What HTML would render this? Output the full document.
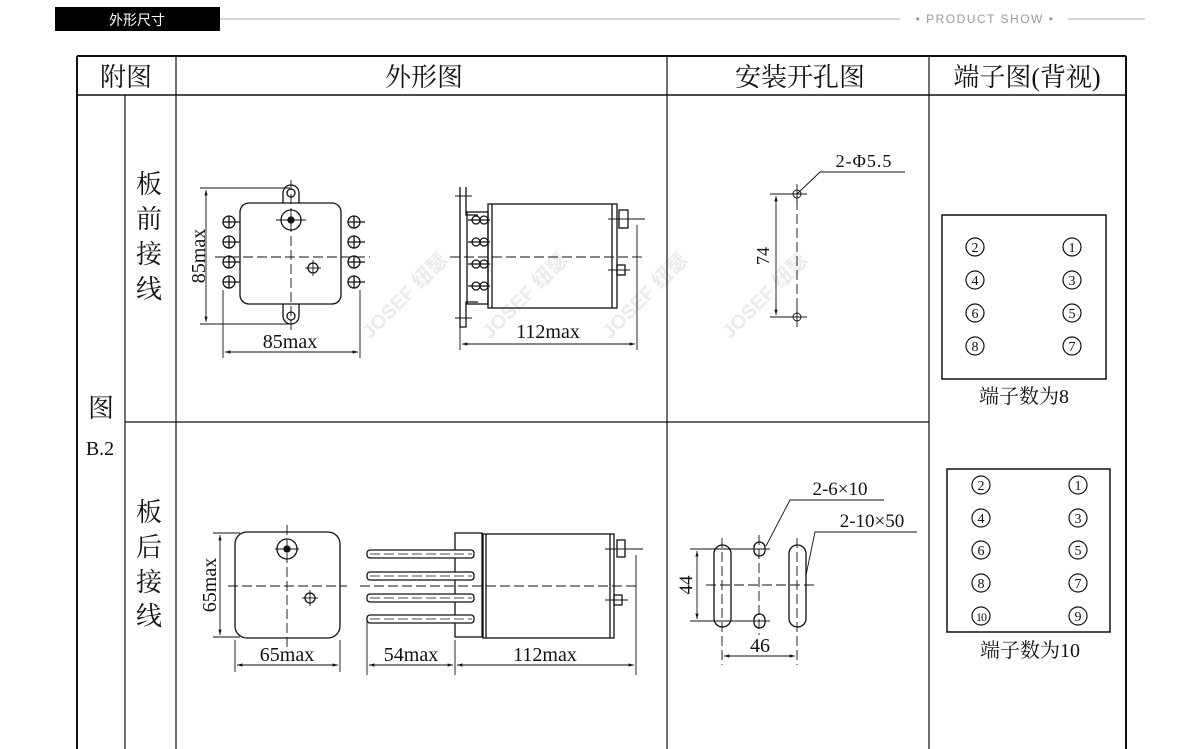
<!DOCTYPE html>
<html><head><meta charset="utf-8"><style>
html,body{margin:0;padding:0;background:#fff;width:1200px;height:749px;overflow:hidden}
svg{display:block}
text{font-family:"Liberation Serif","Noto Serif CJK SC",serif;fill:#111}
.c{font-family:"Liberation Sans","Noto Sans CJK SC",sans-serif}
text.wm{fill:#ebebeb;font-family:"Liberation Sans","Noto Sans CJK SC",sans-serif;font-weight:bold;font-size:20px}
</style></head><body>
<svg width="1200" height="749" viewBox="0 0 1200 749" xmlns="http://www.w3.org/2000/svg">
<defs>
<marker id="a" viewBox="0 0 10 10" refX="10" refY="5" markerWidth="8" markerHeight="6" orient="auto-start-reverse"><path d="M0,2 L10,5 L0,8z" fill="#111"/></marker>
</defs>
<!-- header -->
<rect x="55" y="7" width="165" height="24" fill="#000"/>
<text x="137" y="25" class="c" font-size="14" style="fill:#fff" text-anchor="middle">外形尺寸</text>
<line x1="220" y1="19" x2="900" y2="19" stroke="#aaa" stroke-width="1"/>
<text x="985" y="23" class="c" font-size="12" letter-spacing="1.5" style="fill:#999" text-anchor="middle">• PRODUCT SHOW •</text>
<line x1="1068" y1="19" x2="1145" y2="19" stroke="#aaa"/>
<!-- watermarks -->
<text class="wm" transform="translate(370,340) rotate(-45)">JOSEF 纽瑟</text>
<text class="wm" transform="translate(490,340) rotate(-45)">JOSEF 纽瑟</text>
<text class="wm" transform="translate(610,340) rotate(-45)">JOSEF 纽瑟</text>
<text class="wm" transform="translate(730,340) rotate(-45)">JOSEF 纽瑟</text>
<!-- table -->
<g stroke="#111" fill="none">
<line x1="77" y1="56" x2="1126" y2="56" stroke-width="2"/>
<line x1="77" y1="95" x2="1126" y2="95" stroke-width="1.5"/>
<line x1="77" y1="56" x2="77" y2="749" stroke-width="2"/>
<line x1="1126" y1="56" x2="1126" y2="749" stroke-width="2"/>
<line x1="125" y1="95" x2="125" y2="749" stroke-width="1.2"/>
<line x1="176" y1="56" x2="176" y2="749" stroke-width="1.2"/>
<line x1="667" y1="56" x2="667" y2="749" stroke-width="1.2"/>
<line x1="929" y1="56" x2="929" y2="749" stroke-width="1.2"/>
<line x1="125" y1="422" x2="929" y2="422" stroke-width="1.2"/>
</g>
<g font-size="26" text-anchor="middle">
<text x="126" y="86">附图</text>
<text x="424" y="86">外形图</text>
<text x="800" y="86">安装开孔图</text>
<text x="1027" y="86">端子图(背视)</text>
<text x="149" y="193">板</text><text x="149" y="228">前</text><text x="149" y="263">接</text><text x="149" y="298">线</text>
<text x="149" y="521">板</text><text x="149" y="556">后</text><text x="149" y="591">接</text><text x="149" y="625">线</text>
<text x="101" y="417">图</text>
</g>
<text x="100" y="455" font-size="20" text-anchor="middle">B.2</text>

<!-- top front view -->
<g stroke="#111" fill="none" stroke-width="1.3">
<path d="M283,203 v-10 a8,8 0 0 1 16,0 v10"/><circle cx="291" cy="193" r="4"/>
<path d="M283,304 v12 a8,8 0 0 0 16,0 v-12"/><circle cx="291" cy="316" r="4"/>
<rect x="240" y="203" width="101" height="101" rx="9" fill="#fff"/>
<circle cx="291" cy="220" r="10"/><circle cx="291" cy="220" r="3" fill="#111"/>
<circle cx="313" cy="268" r="5"/>
<g id="tl"><circle cx="229" cy="222" r="6"/><line x1="223" y1="222" x2="240" y2="222"/><line x1="229" y1="216" x2="229" y2="228"/></g>
<use href="#tl" y="20"/><use href="#tl" y="40"/><use href="#tl" y="60"/>
<use href="#tl" x="125"/><use href="#tl" x="125" y="20"/><use href="#tl" x="125" y="40"/><use href="#tl" x="125" y="60"/>
</g>
<g stroke="#111" stroke-width="0.9" fill="none">
<line x1="215" y1="257" x2="370" y2="257" stroke-dasharray="10,4"/>
<line x1="291" y1="180" x2="291" y2="330" stroke-dasharray="10,4"/>
<line x1="305" y1="268" x2="321" y2="268"/><line x1="313" y1="260" x2="313" y2="276"/>
<line x1="276" y1="220" x2="306" y2="220"/>
<line x1="200" y1="188" x2="290" y2="188"/><line x1="200" y1="324" x2="290" y2="324"/>
<line x1="206" y1="190" x2="206" y2="322" marker-start="url(#a)" marker-end="url(#a)"/>
<line x1="223" y1="290" x2="223" y2="358"/><line x1="360" y1="290" x2="360" y2="358"/>
<line x1="225" y1="352" x2="358" y2="352" marker-start="url(#a)" marker-end="url(#a)"/>
</g>
<text x="290" y="348" font-size="20" text-anchor="middle">85max</text>
<text transform="translate(205,256) rotate(-90)" font-size="20" text-anchor="middle">85max</text>

<!-- top side view -->
<g stroke="#111" fill="none" stroke-width="1.3">
<path d="M460,187 v140 h6 v-25 h12 M466,187 v28 h12"/>
<rect x="467" y="212" width="21" height="92"/>
<rect x="488" y="204" width="129" height="104"/>
<line x1="492" y1="204" x2="492" y2="308"/>
<line x1="612" y1="204" x2="612" y2="308"/>
<rect x="619" y="210" width="9" height="18"/>
<rect x="617" y="265" width="8" height="10"/>
<g id="st"><circle cx="476" cy="220" r="4"/><circle cx="484" cy="220" r="4"/><line x1="468" y1="220" x2="490" y2="220"/></g>
<use href="#st" y="22"/><use href="#st" y="44"/><use href="#st" y="66"/>
</g>
<g stroke="#111" stroke-width="0.9" fill="none">
<line x1="450" y1="257" x2="645" y2="257" stroke-dasharray="10,4"/>
<line x1="455" y1="196" x2="472" y2="196"/><line x1="455" y1="318" x2="472" y2="318"/>
<line x1="608" y1="219" x2="645" y2="219"/><line x1="608" y1="270" x2="630" y2="270"/>
<line x1="460" y1="327" x2="460" y2="350"/><line x1="637" y1="225" x2="637" y2="350"/>
<line x1="462" y1="344" x2="635" y2="344" marker-start="url(#a)" marker-end="url(#a)"/>
</g>
<text x="548" y="338" font-size="20" text-anchor="middle">112max</text>

<!-- top mounting -->
<text x="864" y="167" font-size="18" text-anchor="middle" letter-spacing="1">2-Φ5.5</text>
<g stroke="#111" stroke-width="0.9" fill="none">
<polyline points="905,172 820,172 797,194"/>
<circle cx="797" cy="194" r="4"/><circle cx="797" cy="317" r="4"/>
<line x1="787" y1="194" x2="807" y2="194"/><line x1="797" y1="184" x2="797" y2="204"/>
<line x1="787" y1="317" x2="807" y2="317"/><line x1="797" y1="307" x2="797" y2="327"/>
<line x1="797" y1="200" x2="797" y2="311" stroke-dasharray="10,4"/>
<line x1="770" y1="194" x2="790" y2="194"/><line x1="770" y1="317" x2="790" y2="317"/>
<line x1="776" y1="196" x2="776" y2="315" marker-start="url(#a)" marker-end="url(#a)"/>
</g>
<text transform="translate(769,256) rotate(-90)" font-size="18" text-anchor="middle">74</text>

<!-- terminals -->
<rect x="942" y="215" width="164" height="164" fill="none" stroke="#111" stroke-width="1.5"/>
<rect x="947" y="469" width="163" height="163" fill="none" stroke="#111" stroke-width="1.5"/>
<g stroke="#111" stroke-width="1.2" fill="none">
<circle cx="975" cy="247" r="9"/><circle cx="1072" cy="247" r="9"/>
<circle cx="975" cy="280" r="9"/><circle cx="1072" cy="280" r="9"/>
<circle cx="975" cy="313" r="9"/><circle cx="1072" cy="313" r="9"/>
<circle cx="975" cy="346" r="9"/><circle cx="1072" cy="346" r="9"/>
<circle cx="981" cy="485" r="9"/><circle cx="1078" cy="485" r="9"/>
<circle cx="981" cy="518" r="9"/><circle cx="1078" cy="518" r="9"/>
<circle cx="981" cy="550" r="9"/><circle cx="1078" cy="550" r="9"/>
<circle cx="981" cy="583" r="9"/><circle cx="1078" cy="583" r="9"/>
<circle cx="981" cy="616" r="9"/><circle cx="1078" cy="616" r="9"/>
</g>
<g font-size="14" text-anchor="middle">
<text x="975" y="252">2</text><text x="1072" y="252">1</text>
<text x="975" y="285">4</text><text x="1072" y="285">3</text>
<text x="975" y="318">6</text><text x="1072" y="318">5</text>
<text x="975" y="351">8</text><text x="1072" y="351">7</text>
<text x="981" y="490">2</text><text x="1078" y="490">1</text>
<text x="981" y="523">4</text><text x="1078" y="523">3</text>
<text x="981" y="555">6</text><text x="1078" y="555">5</text>
<text x="981" y="588">8</text><text x="1078" y="588">7</text>
<text x="981" y="621" font-size="12" letter-spacing="-1">10</text><text x="1078" y="621">9</text>
</g>
<g font-size="20" text-anchor="middle">
<text x="1024" y="403">端子数为8</text>
<text x="1030" y="657">端子数为10</text>
</g>

<!-- bottom front view -->
<g stroke="#111" fill="none" stroke-width="1.3">
<rect x="235" y="532" width="105" height="106" rx="12"/>
<circle cx="287" cy="549" r="10"/><circle cx="287" cy="549" r="3" fill="#111"/>
<circle cx="310" cy="598" r="5"/>
</g>
<g stroke="#111" stroke-width="0.9" fill="none">
<line x1="228" y1="586" x2="347" y2="586" stroke-dasharray="10,4"/>
<line x1="287" y1="525" x2="287" y2="650" stroke-dasharray="10,4"/>
<line x1="275" y1="549" x2="299" y2="549"/>
<line x1="302" y1="598" x2="318" y2="598"/><line x1="310" y1="590" x2="310" y2="606"/>
<line x1="213" y1="533" x2="240" y2="533"/><line x1="213" y1="637" x2="240" y2="637"/>
<line x1="220" y1="535" x2="220" y2="635" marker-start="url(#a)" marker-end="url(#a)"/>
<line x1="235" y1="640" x2="235" y2="672"/><line x1="340" y1="640" x2="340" y2="672"/>
<line x1="237" y1="665" x2="338" y2="665" marker-start="url(#a)" marker-end="url(#a)"/>
</g>
<text x="287" y="661" font-size="20" text-anchor="middle">65max</text>
<text transform="translate(216,585) rotate(-90)" font-size="20" text-anchor="middle">65max</text>

<!-- bottom side view -->
<g stroke="#111" fill="none" stroke-width="1.3">
<rect x="455" y="533" width="27" height="104"/>
<rect x="483" y="534" width="131" height="104"/>
<line x1="486" y1="534" x2="486" y2="638"/>
<line x1="610" y1="534" x2="610" y2="638"/>
<rect x="617" y="540" width="8" height="17"/>
<rect x="614" y="595" width="8" height="10"/>
<g id="pn"><rect x="367" y="550" width="107" height="8" rx="3" fill="#fff"/><line x1="370" y1="554" x2="472" y2="554" stroke-width="0.8" stroke-dasharray="10,4"/></g>
<use href="#pn" y="22"/><use href="#pn" y="44"/><use href="#pn" y="65"/>
</g>
<g stroke="#111" stroke-width="0.9" fill="none">
<line x1="360" y1="586" x2="640" y2="586" stroke-dasharray="10,4"/>
<line x1="605" y1="549" x2="643" y2="549"/><line x1="605" y1="600" x2="628" y2="600"/>
<line x1="367" y1="620" x2="367" y2="675"/><line x1="455" y1="640" x2="455" y2="675"/><line x1="636" y1="555" x2="636" y2="675"/>
<line x1="369" y1="665" x2="453" y2="665" marker-start="url(#a)" marker-end="url(#a)"/>
<line x1="457" y1="665" x2="634" y2="665" marker-start="url(#a)" marker-end="url(#a)"/>
</g>
<text x="411" y="661" font-size="20" text-anchor="middle">54max</text>
<text x="545" y="661" font-size="20" text-anchor="middle">112max</text>

<!-- bottom mounting -->
<text x="840" y="495" font-size="19" text-anchor="middle">2-6×10</text>
<text x="872" y="527" font-size="19" text-anchor="middle">2-10×50</text>
<g stroke="#111" stroke-width="1.3" fill="none">
<rect x="714" y="545" width="17" height="82" rx="8.5"/>
<rect x="789" y="545" width="17" height="82" rx="8.5"/>
<rect x="754" y="542" width="11" height="14" rx="5.5"/>
<rect x="754" y="614" width="11" height="14" rx="5.5"/>
</g>
<g stroke="#111" stroke-width="0.9" fill="none">
<polyline points="884,500 790,500 766,546"/>
<polyline points="917,532 815,532 806,575"/>
<line x1="706" y1="585" x2="815" y2="585" stroke-dasharray="10,4"/>
<line x1="722" y1="538" x2="722" y2="665" stroke-dasharray="10,4"/>
<line x1="797" y1="538" x2="797" y2="665" stroke-dasharray="10,4"/>
<line x1="759" y1="535" x2="759" y2="635" stroke-dasharray="10,4"/>
<line x1="690" y1="549" x2="770" y2="549"/><line x1="690" y1="621" x2="770" y2="621"/>
<line x1="697" y1="551" x2="697" y2="619" marker-start="url(#a)" marker-end="url(#a)"/>
<line x1="724" y1="656" x2="795" y2="656" marker-start="url(#a)" marker-end="url(#a)"/>
</g>
<text transform="translate(692,585) rotate(-90)" font-size="19" text-anchor="middle">44</text>
<text x="760" y="652" font-size="20" text-anchor="middle">46</text>
</svg>
</body></html>
